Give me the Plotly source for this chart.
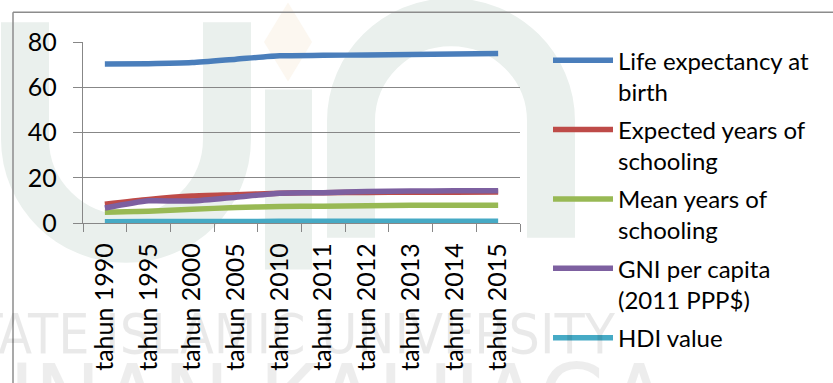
import plotly.graph_objects as go

categories = ["tahun 1990", "tahun 1995", "tahun 2000", "tahun 2005", "tahun 2010",
              "tahun 2011", "tahun 2012", "tahun 2013", "tahun 2014", "tahun 2015"]
life_expectancy = [70.3, 70.4, 70.9, 72.4, 73.9, 74.1, 74.3, 74.5, 74.7, 74.9]
expected_schooling = [8.3, 10.4, 11.9, 12.5, 13.2, 13.4, 13.5, 13.6, 13.6, 13.7]
mean_schooling = [4.7, 5.2, 6.1, 6.8, 7.3, 7.4, 7.6, 7.8, 7.9, 7.9]
gni_per_capita = [6.6, 9.8, 9.7, 11.4, 13.2, 13.4, 13.9, 14.1, 14.2, 14.3]
hdi_value = [0.574, 0.612, 0.649, 0.690, 0.720, 0.729, 0.733, 0.734, 0.738, 0.740]

series_names = ["Life expectancy at<br>birth", "Expected years of<br>schooling",
                "Mean years of<br>schooling", "GNI per capita<br>(2011 PPP$)", "HDI value"]
series_values = [life_expectancy, expected_schooling, mean_schooling, gni_per_capita, hdi_value]
series_colors = ["#4A7EBB", "#BE4B48", "#98B954", "#7D60A0", "#46AAC5"]

watermark_top = "STATE ISLAMIC UNIVERSITY"
watermark_bottom = "SUNAN KALIJAGA"

FONT = "Lato"
W, H = 833, 383
L, R, T, B = 83, 313, 42, 158
pw, ph = W - L - R, H - T - B


def px_x(p):
    return (p - L) / pw


def px_y(p):
    return (H - B - p) / ph


def path_px(cmds):
    out = []
    for c, pts in cmds:
        if c == "Z":
            out.append("Z")
            continue
        coords = []
        for i in range(0, len(pts), 2):
            coords.append(f"{px_x(pts[i]):.5f},{px_y(pts[i + 1]):.5f}")
        out.append(c + " ".join(coords))
    return " ".join(out)


K = 0.5523
logo_col = "#EAF0ED"


def u_path(cx, cy, r, top_left, top_right):
    k = K * r
    return path_px([
        ("M", [cx - r, top_left]),
        ("L", [cx - r, cy]),
        ("C", [cx - r, cy + k, cx - k, cy + r, cx, cy + r]),
        ("C", [cx + k, cy + r, cx + r, cy + k, cx + r, cy]),
        ("L", [cx + r, top_right]),
    ])


def n_path(cx, cy, r, bottom_left, bottom_right):
    k = K * r
    return path_px([
        ("M", [cx - r, bottom_left]),
        ("L", [cx - r, cy]),
        ("C", [cx - r, cy - k, cx - k, cy - r, cx, cy - r]),
        ("C", [cx + k, cy - r, cx + r, cy - k, cx + r, cy]),
        ("L", [cx + r, bottom_right]),
    ])


shapes = [
    # faint background logo
    dict(type="path", xref="paper", yref="paper", layer="below",
         path=u_path(126, 140, 101, 22, 22),
         line=dict(color=logo_col, width=48), fillcolor="rgba(0,0,0,0)"),
    dict(type="rect", xref="paper", yref="paper", layer="below",
         x0=px_x(265), x1=px_x(312), y0=px_y(90), y1=px_y(272),
         line=dict(width=0), fillcolor=logo_col),
    dict(type="path", xref="paper", yref="paper", layer="below",
         path=n_path(451, 122, 100, 240, 240),
         line=dict(color=logo_col, width=48), fillcolor="rgba(0,0,0,0)"),
    dict(type="path", xref="paper", yref="paper", layer="below",
         path=path_px([("M", [288, 2]), ("L", [312, 42]), ("L", [288, 82]),
                       ("L", [264, 42]), ("Z", [])]),
         line=dict(width=0), fillcolor="#FCF7F0"),
    # chart area border
    dict(type="line", xref="paper", yref="paper", x0=px_x(13), x1=px_x(W + 5),
         y0=px_y(12), y1=px_y(12), line=dict(color="#8C8C8C", width=1.5)),
    dict(type="line", xref="paper", yref="paper", x0=px_x(13), x1=px_x(13),
         y0=px_y(12), y1=px_y(H + 5), line=dict(color="#8C8C8C", width=1.5)),
]

fig = go.Figure()
for name, vals, col in zip(series_names, series_values, series_colors):
    fig.add_trace(go.Scatter(
        x=categories, y=vals, name=name, mode="lines",
        line=dict(color=col, width=5.5, shape="spline", smoothing=0.6),
        legendgroup=name,
    ))

WM_FONT = "Liberation Sans Narrow, DejaVu Sans Condensed, sans-serif"
annotations = [
    dict(text=watermark_top, xref="paper", yref="paper", x=px_x(618), y=px_y(337),
         xanchor="right", yanchor="middle", showarrow=False,
         font=dict(family=WM_FONT, size=55, color="rgba(0,0,0,0.085)")),
    dict(text=watermark_bottom, xref="paper", yref="paper", x=px_x(672), y=px_y(344),
         xanchor="right", yanchor="top", showarrow=False,
         font=dict(family=WM_FONT, size=100, color="rgba(0,0,0,0.07)")),
]

grid_col = "#878787"
fig.update_layout(
    width=W, height=H,
    margin=dict(l=L, r=R, t=T, b=B, pad=0),
    paper_bgcolor="white", plot_bgcolor="rgba(0,0,0,0)",
    font=dict(family=FONT, size=24, color="#000000"),
    showlegend=True,
    legend=dict(
        x=px_x(548), y=px_y(38), xanchor="left", yanchor="top",
        valign="top", itemwidth=60, tracegroupgap=4, maxheight=2000,
        font=dict(family=FONT, size=24, color="#000000"),
        bgcolor="rgba(0,0,0,0)",
    ),
    xaxis=dict(
        type="category", range=[-0.5, 9.5], tickson="boundaries",
        ticks="outside", ticklen=8, tickcolor=grid_col, tickwidth=1,
        showline=True, linecolor=grid_col, linewidth=1.3,
        showgrid=False, tickangle=-90, zeroline=False, ticklabelstandoff=9,
        tickfont=dict(family=FONT, size=25, color="#000000"),
    ),
    yaxis=dict(
        range=[0, 80], dtick=20, tick0=0,
        ticks="outside", ticklen=9, tickcolor=grid_col, tickwidth=1,
        showline=True, linecolor=grid_col, linewidth=1.3,
        showgrid=True, gridcolor=grid_col, gridwidth=1.2, zeroline=False,
        ticklabelstandoff=11,
        tickfont=dict(family=FONT, size=25, color="#000000"),
    ),
    shapes=shapes,
    annotations=annotations,
)

fig.write_html("out.html")
